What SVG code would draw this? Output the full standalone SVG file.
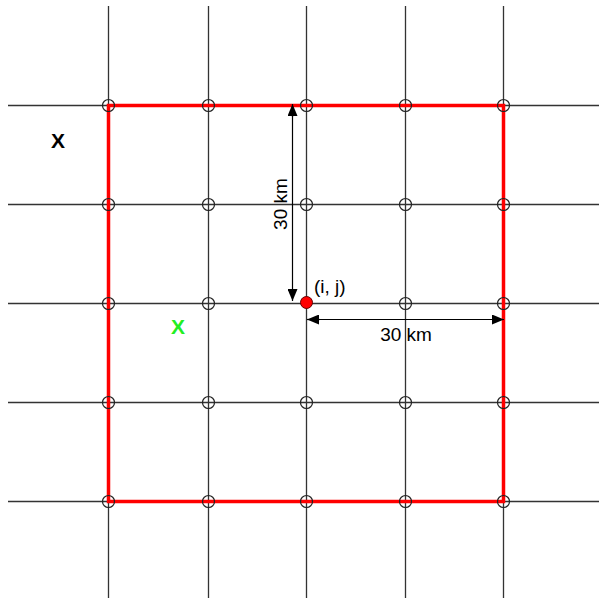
<svg xmlns="http://www.w3.org/2000/svg" width="599" height="599" viewBox="0 0 599 599">
<defs>
<style>
.grid{stroke:#333;stroke-width:1.3;fill:none}
.node{fill:none;stroke:#222;stroke-width:1.2}
.box{fill:none;stroke:#ff0000;stroke-width:3.5}
.dim{stroke:#000;stroke-width:1.2;fill:none}
.t{font-family:"Liberation Sans",Arial,sans-serif;font-size:19px;fill:#000}
.x{font-family:"Liberation Sans",Arial,sans-serif;font-size:21px;font-weight:bold}
</style>
<marker id="ah" markerWidth="12" markerHeight="10" refX="12" refY="5" orient="auto" markerUnits="userSpaceOnUse">
<path d="M0,0 L12,5 L0,10 Z" fill="#000"/>
</marker>
</defs>
<rect width="599" height="599" fill="#fff"/>
<g id="grid">
<line class="grid" x1="108.5" y1="6" x2="108.5" y2="598"/>
<line class="grid" x1="208.5" y1="6" x2="208.5" y2="598"/>
<line class="grid" x1="306.5" y1="6" x2="306.5" y2="598"/>
<line class="grid" x1="405.5" y1="6" x2="405.5" y2="598"/>
<line class="grid" x1="503.5" y1="6" x2="503.5" y2="598"/>
<line class="grid" x1="8" y1="105.5" x2="599" y2="105.5"/>
<line class="grid" x1="8" y1="204.5" x2="599" y2="204.5"/>
<line class="grid" x1="8" y1="303.5" x2="599" y2="303.5"/>
<line class="grid" x1="8" y1="402.5" x2="599" y2="402.5"/>
<line class="grid" x1="8" y1="501.5" x2="599" y2="501.5"/>
</g>
<rect id="box" class="box" x="108.5" y="105.5" width="395" height="396"/>
<g id="nodes">
<g id="n-r1"><circle class="node" cx="108.5" cy="105.5" r="6"/><circle class="node" cx="208.5" cy="105.5" r="6"/><circle class="node" cx="306.5" cy="105.5" r="6"/><circle class="node" cx="405.5" cy="105.5" r="6"/><circle class="node" cx="503.5" cy="105.5" r="6"/></g>
<g id="n-r2"><circle class="node" cx="108.5" cy="204.5" r="6"/><circle class="node" cx="208.5" cy="204.5" r="6"/><circle class="node" cx="306.5" cy="204.5" r="6"/><circle class="node" cx="405.5" cy="204.5" r="6"/><circle class="node" cx="503.5" cy="204.5" r="6"/></g>
<g id="n-r3"><circle class="node" cx="108.5" cy="303.5" r="6"/><circle class="node" cx="208.5" cy="303.5" r="6"/><circle class="node" cx="405.5" cy="303.5" r="6"/><circle class="node" cx="503.5" cy="303.5" r="6"/></g>
<g id="n-r4"><circle class="node" cx="108.5" cy="402.5" r="6"/><circle class="node" cx="208.5" cy="402.5" r="6"/><circle class="node" cx="306.5" cy="402.5" r="6"/><circle class="node" cx="405.5" cy="402.5" r="6"/><circle class="node" cx="503.5" cy="402.5" r="6"/></g>
<g id="n-r5"><circle class="node" cx="108.5" cy="501.5" r="6"/><circle class="node" cx="208.5" cy="501.5" r="6"/><circle class="node" cx="306.5" cy="501.5" r="6"/><circle class="node" cx="405.5" cy="501.5" r="6"/><circle class="node" cx="503.5" cy="501.5" r="6"/></g>
<g id="ij"><circle cx="306.5" cy="302.5" r="6" fill="#ff0000" stroke="#600" stroke-width="1"/><text class="t" x="314" y="293">(i, j)</text></g>
</g>
<g id="connectors">
<line class="dim" x1="292.5" y1="117" x2="292.5" y2="104" marker-end="url(#ah)"/>
<line class="dim" x1="292.5" y1="110" x2="292.5" y2="301" marker-end="url(#ah)"/>
<line class="dim" x1="320" y1="319.5" x2="307" y2="319.5" marker-end="url(#ah)"/>
<line class="dim" x1="312" y1="319.5" x2="504" y2="319.5" marker-end="url(#ah)"/>
</g>
<text class="t" transform="translate(287,204) rotate(-90)" text-anchor="middle">30 km</text>
<text class="t" x="406" y="341" text-anchor="middle">30 km</text>
<text class="x" x="58" y="148" text-anchor="middle" fill="#000">X</text>
<text class="x" x="178" y="334" text-anchor="middle" fill="#22ee22">X</text>
</svg>
